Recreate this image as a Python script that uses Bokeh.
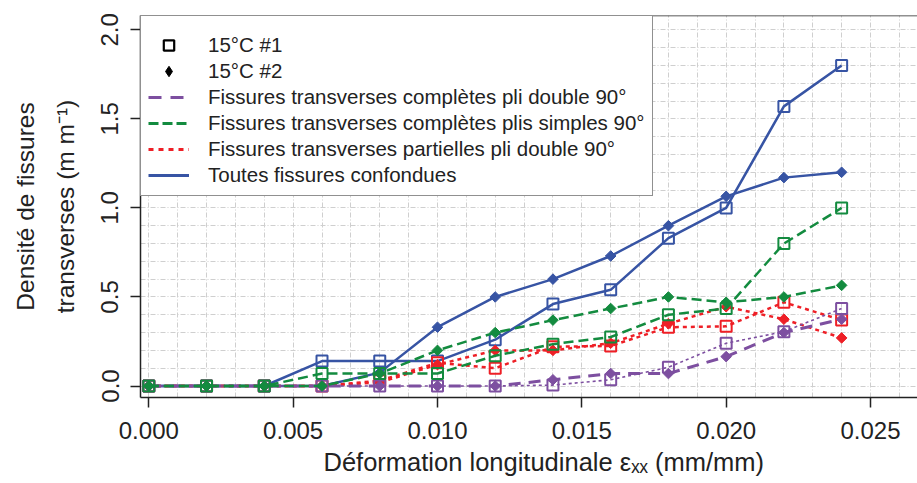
import math
from bokeh.plotting import figure
from bokeh.models import (Range1d, FixedTicker, SingleIntervalTicker, NumeralTickFormatter,
                          Legend, LegendItem, Span, Title)
from bokeh.embed import file_html
from bokeh.resources import INLINE

# ---------------- data ----------------
strain = [0.000, 0.002, 0.004, 0.006, 0.008, 0.010, 0.012, 0.014, 0.016, 0.018, 0.020, 0.022, 0.024]

# 15°C #1 (squares)
total_1 = [0, 0, 0, 0.14, 0.14, 0.14, 0.26, 0.46, 0.54, 0.83, 1.00, 1.57, 1.80]
simple_1 = [0, 0, 0, 0.07, 0.07, 0.07, 0.17, 0.235, 0.275, 0.40, 0.435, 0.80, 1.00]
partial_1 = [0, 0, 0, 0, 0.03, 0.13, 0.10, 0.22, 0.225, 0.33, 0.335, 0.47, 0.37]
double_1 = [0, 0, 0, 0, 0, 0, 0, 0.005, 0.035, 0.105, 0.24, 0.305, 0.435]

# 15°C #2 (diamonds)
total_2 = [0, 0, 0, 0, 0.075, 0.33, 0.50, 0.60, 0.73, 0.90, 1.065, 1.17, 1.20]
simple_2 = [0, 0, 0, 0, 0.07, 0.20, 0.30, 0.37, 0.435, 0.50, 0.47, 0.50, 0.565]
partial_2 = [0, 0, 0, 0, 0.02, 0.12, 0.20, 0.20, 0.24, 0.35, 0.445, 0.375, 0.27]
double_2 = [0, 0, 0, 0, 0, 0, 0, 0.035, 0.07, 0.07, 0.165, 0.30, 0.375]

x_ticks = [0.000, 0.005, 0.010, 0.015, 0.020, 0.025]
y_ticks = [0.0, 0.5, 1.0, 1.5, 2.0]

x_title = "Déformation longitudinale εₓₓ (mm/mm)"
y_title = "Densité de fissures\ntransverses (m m⁻¹)"

legend_labels = ["15°C #1", "15°C #2",
                 "Fissures transverses complètes pli double 90°",
                 "Fissures transverses complètes plis simples 90°",
                 "Fissures transverses partielles pli double 90°",
                 "Toutes fissures confondues"]

# ---------------- style ----------------
BLUE = "#3754a4"
GREEN = "#138b3f"
RED = "#ee1f26"
PURPLE = "#7d4fa0"
INK = "#222222"
FONT = "Liberation Sans"

# pixel geometry of the page
X0_PX, PX_PER_X = 148.3, 28868.0
Y0_PX, PX_PER_Y = 385.5, 178.1
W, H = 917, 483
FRAME_L, FRAME_R, FRAME_T, FRAME_B = 140, 917, 15, 397


def X(px):
    return (px - X0_PX) / PX_PER_X


def Y(py):
    return (Y0_PX - py) / PX_PER_Y


p = figure(width=W, height=H, output_backend="svg", toolbar_location=None,
           x_range=Range1d(X(FRAME_L), X(FRAME_R)),
           y_range=Range1d(Y(FRAME_B), Y(FRAME_T)),
           min_border_left=FRAME_L, min_border_right=0, min_border_top=FRAME_T,
           min_border_bottom=H - FRAME_B)
p.outline_line_color = None
p.background_fill_color = "white"
p.border_fill_color = "white"

# axes
p.xaxis.ticker = FixedTicker(ticks=x_ticks)
p.xaxis.formatter = NumeralTickFormatter(format="0.000")
p.yaxis.ticker = FixedTicker(ticks=y_ticks)
p.yaxis.formatter = NumeralTickFormatter(format="0.0")
p.yaxis.major_label_orientation = "vertical"
for ax in (p.xaxis, p.yaxis):
    ax.axis_line_color = INK
    ax.axis_line_width = 1.5
    ax.major_tick_line_color = INK
    ax.major_tick_line_width = 1.5
    ax.major_tick_out = 10
    ax.major_tick_in = 0
    ax.minor_tick_out = 0
    ax.minor_tick_in = 0
    ax.major_label_text_font = FONT
    ax.major_label_text_font_size = "24px"
    ax.major_label_text_color = INK
    ax.axis_label_text_font = FONT
    ax.axis_label_text_font_style = "normal"
    ax.axis_label_text_color = INK
p.xaxis.major_label_standoff = 14
p.yaxis.major_label_standoff = 12

p.yaxis.axis_label = y_title
p.yaxis.axis_label_text_font_size = "24.5px"
p.yaxis.axis_label_text_line_height = 1.45
p.yaxis.axis_label_standoff = 20

# x title as a below-panel title, left aligned and offset like the reference
p.add_layout(Title(text=x_title, align="left", offset=183, standoff=9,
                   text_font=FONT, text_font_size="25.5px", text_font_style="normal",
                   text_color=INK), "below")

# grid
p.xgrid.ticker = SingleIntervalTicker(interval=0.001)
p.ygrid.ticker = SingleIntervalTicker(interval=0.1)
for g in (p.xgrid, p.ygrid):
    g.grid_line_color = "#cfcfcf"
    g.grid_line_width = 1
    g.grid_line_dash = "5 2 1 2"

# top frame line
p.add_layout(Span(location=Y(FRAME_T), dimension="width", line_color=INK, line_width=1.5))

# ---------------- series ----------------
SQ = dict(marker="square", size=11, fill_color=None, line_width=2)
DI = dict(marker="square", angle=math.pi / 4, size=7.5, line_width=1)

# blue: total
p.line(strain, total_1, line_color=BLUE, line_width=2.5)
p.scatter(strain, total_1, line_color=BLUE, **SQ)
p.line(strain, total_2, line_color=BLUE, line_width=2.5)
p.scatter(strain, total_2, line_color=BLUE, fill_color=BLUE, **DI)

# red: partial
p.line(strain, partial_1, line_color=RED, line_width=2.5, line_dash="4 4")
p.scatter(strain, partial_1, line_color=RED, **SQ)
p.line(strain, partial_2, line_color=RED, line_width=2.5, line_dash="4 4")
p.scatter(strain, partial_2, line_color=RED, fill_color=RED, **DI)

# purple: double ply complete
p.line(strain, double_1, line_color=PURPLE, line_width=1.6, line_dash="3 3")
p.scatter(strain, double_1, line_color=PURPLE, **SQ)
p.line(strain, double_2, line_color=PURPLE, line_width=3, line_dash="12 8")
p.scatter(strain, double_2, line_color=PURPLE, fill_color=PURPLE, **DI)

# green: single plies complete
p.line(strain, simple_1, line_color=GREEN, line_width=2.5, line_dash="10 5")
p.scatter(strain, simple_1, line_color=GREEN, **SQ)
p.line(strain, simple_2, line_color=GREEN, line_width=2.5, line_dash="10 5")
p.scatter(strain, simple_2, line_color=GREEN, fill_color=GREEN, **DI)

# ---------------- legend ----------------
NAN = [float("nan")]
lg_sq = p.scatter(x=NAN, y=NAN, marker="square", size=10, line_color="black", line_width=2.2, fill_color=None)
lg_di = p.scatter(x=NAN, y=NAN, marker="diamond", size=12, line_color="black", fill_color="black")
lg_pu = p.line(x=NAN, y=NAN, line_color=PURPLE, line_width=3, line_dash="13 9")
lg_gr = p.line(x=NAN, y=NAN, line_color=GREEN, line_width=3, line_dash="10 4")
lg_re = p.line(x=NAN, y=NAN, line_color=RED, line_width=3, line_dash="5 5")
lg_bl = p.line(x=NAN, y=NAN, line_color=BLUE, line_width=3)

legend = Legend(items=[LegendItem(label=legend_labels[i], renderers=[r]) for i, r in
                       enumerate([lg_sq, lg_di, lg_pu, lg_gr, lg_re, lg_bl])],
                location="top_left", margin=0, padding=7, spacing=0,
                label_height=26, glyph_height=26, glyph_width=41, label_standoff=19,
                label_text_font=FONT, label_text_font_size="20.5px", label_text_color=INK,
                border_line_color=INK, border_line_width=1.2,
                background_fill_color="white", background_fill_alpha=1.0,
                title=" ", title_text_font_size="8px", title_standoff=0)
p.add_layout(legend)

open("out.html", "w").write(file_html(p, INLINE))
